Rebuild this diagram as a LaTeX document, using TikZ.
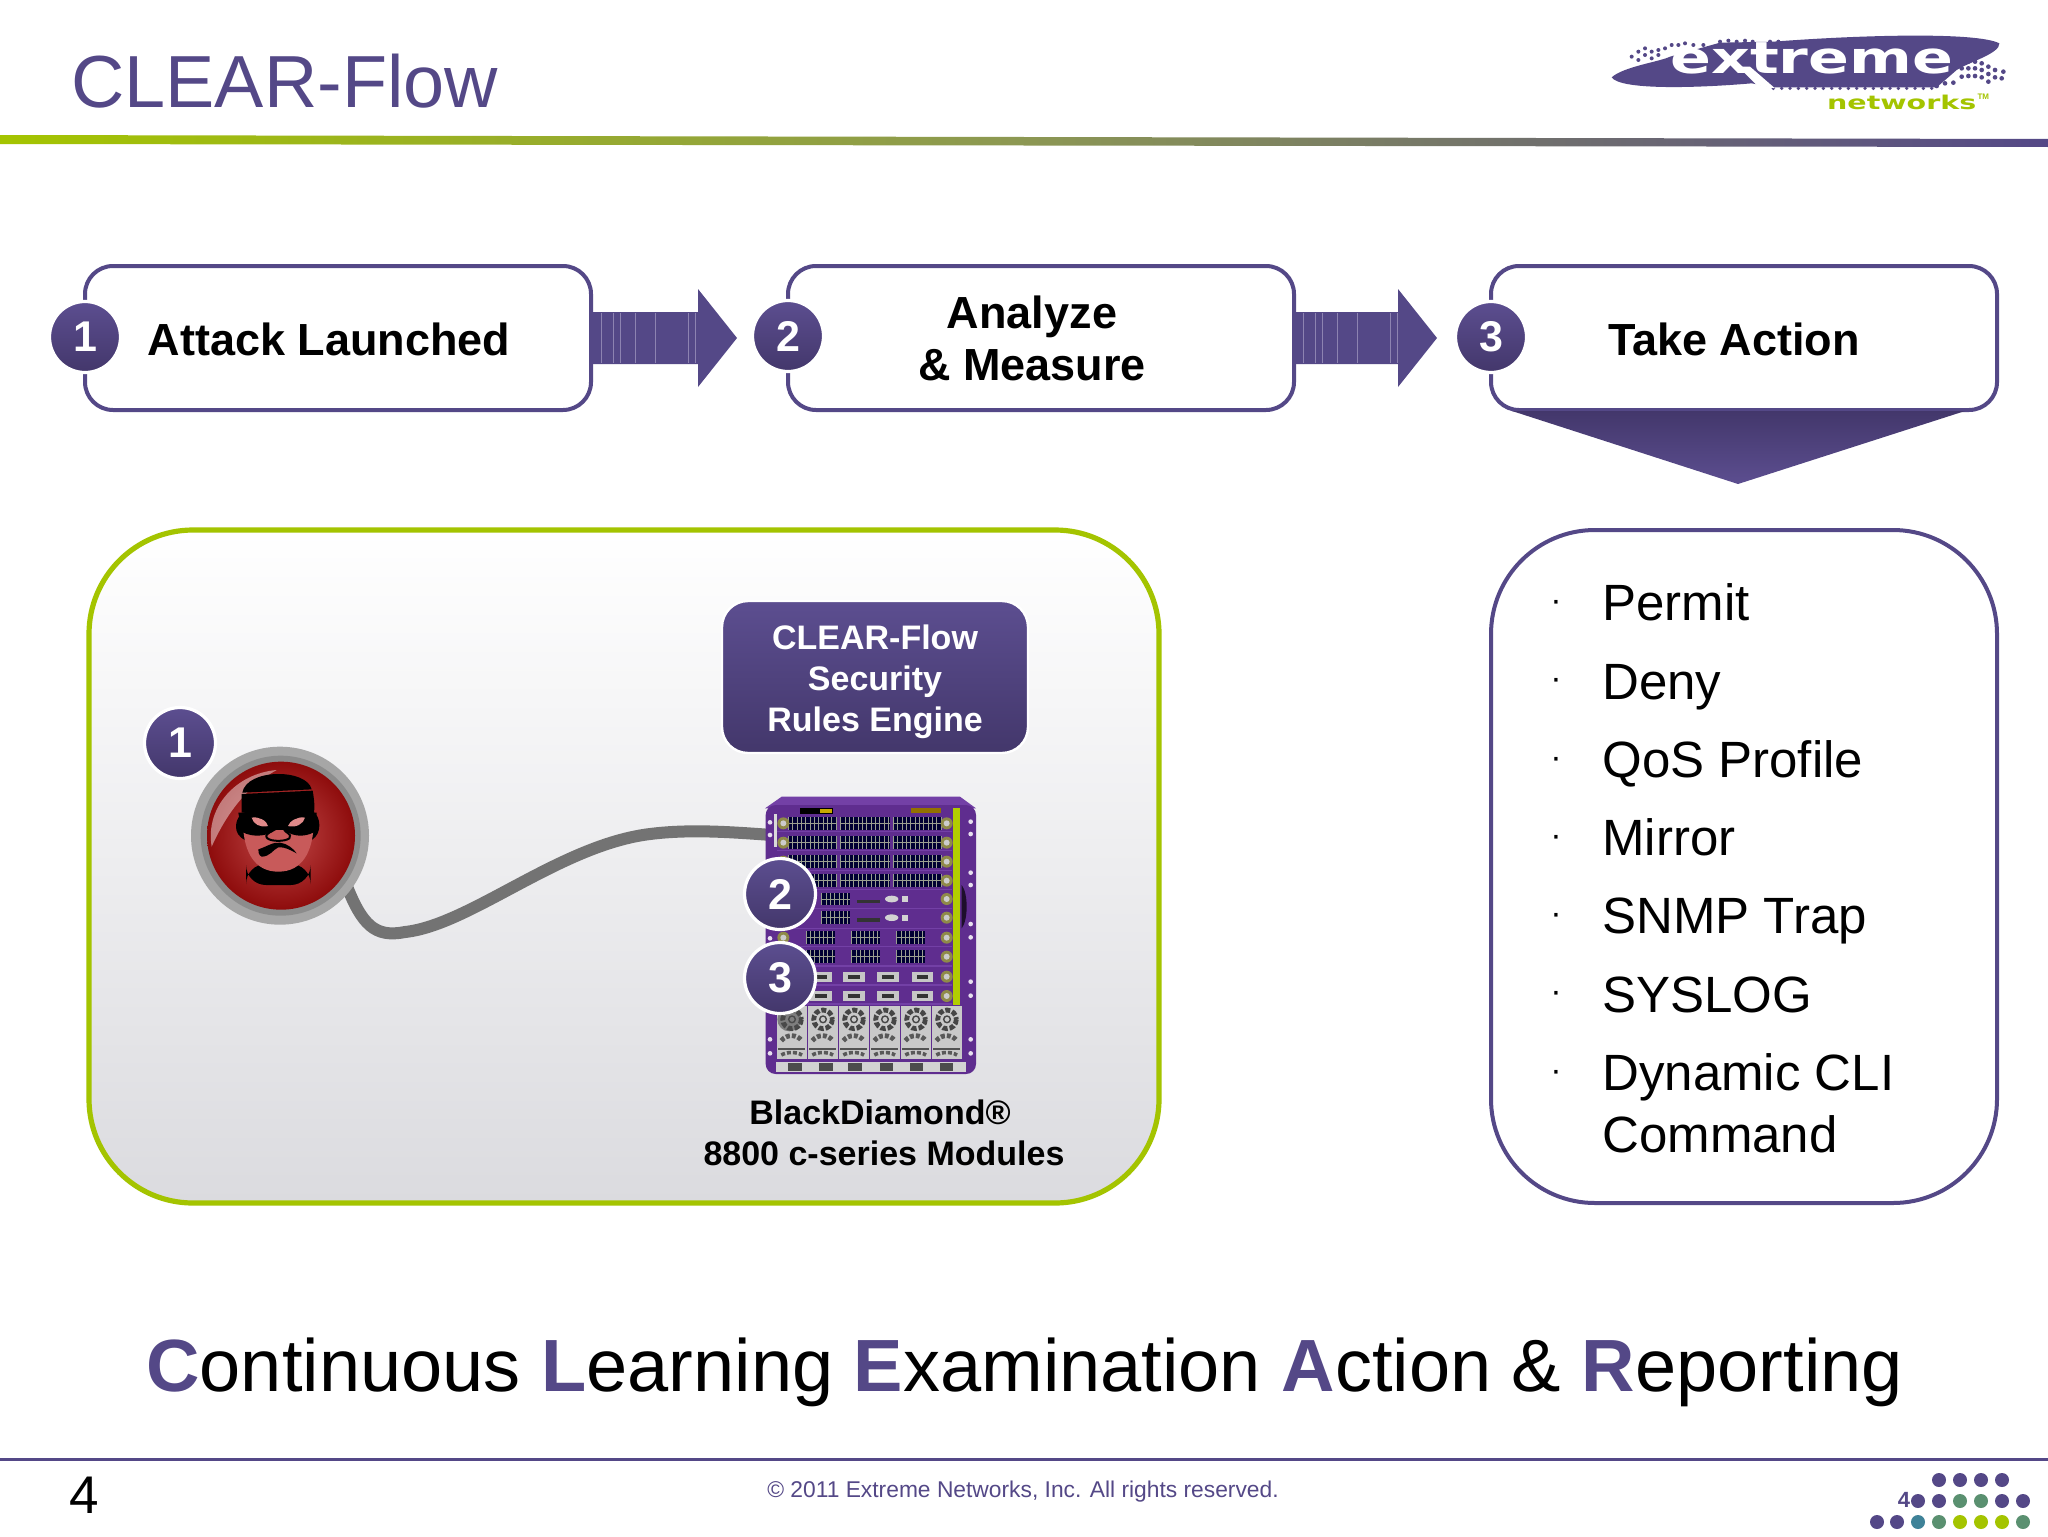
\documentclass[tikz,border=0pt]{standalone}
\usepackage{fontspec}
\setmainfont{Liberation Sans}
\newfontfamily\logofont{DejaVu Sans}
\usetikzlibrary{shadings,calc}
\definecolor{xpurple}{HTML}{544887}
\definecolor{xdark}{HTML}{43376B}
\definecolor{xlight}{HTML}{5C4E90}
\definecolor{xgreen}{HTML}{A4C400}
\definecolor{chassis}{HTML}{5F2D8F}
\definecolor{chassisL}{HTML}{7340A6}
\definecolor{panelB}{HTML}{DBDBDF}
\definecolor{faceC}{HTML}{C85A5A}
\definecolor{eyeC}{HTML}{E08A8A}
\definecolor{redIn}{HTML}{C24A4A}
\definecolor{redOut}{HTML}{8E0C0C}
\definecolor{dotG}{HTML}{5A9070}
\definecolor{dotT}{HTML}{3F8298}
\definecolor{gridC}{HTML}{9A9F90}
\newcommand{\fsz}[1]{\fontsize{#1}{#1}\selectfont}
\newcommand{\portblock}[3]{%
  \fill[black!80!blue] (#1,#3-19) rectangle (#2,#3+19);
  \foreach \i in {#1,\numexpr#1+13\relax,...,#2}{\draw[gridC,line width=.4pt] (\i,#3-19) -- (\i,#3+19);}
  \draw[gridC,line width=.5pt] (#1,#3) -- (#2,#3);
}
\tikzset{
  stepbox/.style={draw=xpurple,line width=2pt,rounded corners=14pt,fill=white},
  numdisc/.style={circle,minimum size=35.5pt,inner sep=0pt,draw=white,line width=1.6pt,top color=xlight,bottom color=xdark,text=white,font=\fsz{21.5}\bfseries},
  blockarrow/.style={fill=xpurple,draw=none},
  stephead/.style={anchor=base,font=\fsz{22.5}\bfseries,text=black,inner sep=0pt},
  listitem/.style={anchor=base west,font=\fsz{25.5},text=black,inner sep=0pt},
  bulletdot/.style={anchor=base,font=\fsz{17},text=black,inner sep=0pt},
  whitehead/.style={anchor=base,font=\fsz{17}\bfseries,text=white,inner sep=0pt},
  modulehead/.style={anchor=base,font=\fsz{17}\bfseries,text=black,inner sep=0pt},
  silver/.style={fill=gray!45!white},
}
\begin{document}
\begin{tikzpicture}[x=0.5pt,y=-0.5pt]
\useasboundingbox (0,0) rectangle (2048,1536);
\fill[white] (0,0) rectangle (2048,1536);
% header
\node[anchor=base west,inner sep=0pt,font=\fsz{36.9},text=xpurple] (title) at (71,107) {CLEAR-Flow};
\shade[left color=xgreen,right color=xpurple,middle color=gray!65!xgreen] (0,135) -- (2048,139) -- (2048,147) -- (0,144) -- cycle;
% logo
\begin{scope}[shift={(1560,0)},x=0.16667pt,y=-0.16667pt]
\fill[xpurple] (155,232) .. controls (190,200) and (300,185) .. (330,170) -- (480,128) -- (640,125)
  .. controls (900,105) and (1250,95) .. (1318,130) .. controls (1320,160) and (1230,185) .. (1190,210)
  -- (1130,262) -- (640,262) -- (575,250) .. controls (400,265) and (180,270) .. (155,232) -- cycle;
\foreach \x/\y in {215/170,235/155,235/180,255/165,255/145,275/155,275/175,295/150,295/165,315/145,335/135,355/135,375/130,400/135,430/135,
  480/125,505/122,530/125,555/122,578/125,630/125,655/125}{\fill[xpurple] (\x,\y) circle[radius=6];}
\foreach \x/\y in {1205/180,1225/185,1245/185,1265/190,1285/200,1305/210,1330/215,1205/205,1225/205,1245/205,1265/210,1285/222,1305/232,1325/235,1205/230,1225/228,1245/228,1265/232,1285/245,1180/248,1155/250,1130/258}{\fill[xpurple] (\x,\y) circle[radius=7];}
\foreach \x in {640,665,...,1120}{\fill[xpurple] (\x,265) circle[radius=5.5];}
\fill[white] (535,200) -- (570,200) -- (645,265) -- (590,255) -- cycle;
\node[anchor=base,inner sep=0pt,text=white,font=\logofont\fsz{22}\bfseries] (logoword) at (755,220) {\scalebox{1.37}[1]{extreme}};
\node[anchor=base,inner sep=0pt,text=xgreen,font=\logofont\fsz{9.5}\bfseries] (logonet) at (1025,328) {\scalebox{1.5}[1]{networks}};
\node[anchor=base,inner sep=0pt,text=xgreen,font=\fsz{4}\bfseries] (logotm) at (1270,298) {TM};
\end{scope}
% step boxes
\draw[stepbox] (85,266) rectangle (591,410);
\draw[stepbox] (788,266) rectangle (1294,410);
\draw[stepbox] (1491,266) rectangle (1997,410);
% arrows
\fill[blockarrow] (593,312) -- (698,312) -- (698,289) -- (737,338) -- (698,387) -- (698,364) -- (593,364) -- cycle;
\fill[blockarrow] (1295,312) -- (1398,312) -- (1398,289) -- (1437,338) -- (1398,387) -- (1398,364) -- (1295,364) -- cycle;
\foreach \o in {8,20,27,42,62,95,102}{
  \draw[xlight!70!white,line width=.35pt] (593+\o,313) -- (593+\o,363);
  \draw[xlight!70!white,line width=.35pt] (1295+\o,313) -- (1295+\o,363);
}
\shade[top color=xdark,bottom color=xlight] (1512,411) -- (1965,411) -- (1738,484) -- cycle;
\node[numdisc] (s1) at (85,337) {1};
\node[numdisc] (s2) at (788,336) {2};
\node[numdisc] (s3) at (1491,337) {3};
\node[stephead] (t1) at (329,355) {Attack Launched};
\node[stephead] (t2a) at (1032,328) {Analyze};
\node[stephead] (t2b) at (1032,380) {\& Measure};
\node[stephead] (t3) at (1734,355) {Take Action};
% big panels
\draw[draw=xgreen,line width=2.6pt,rounded corners=52pt,top color=white,bottom color=panelB] (89,530) rectangle (1159,1203);
\draw[draw=xpurple,line width=2pt,rounded corners=52pt,fill=white] (1491,530) rectangle (1997,1203);
% rules box
\node[draw=white,line width=1.2pt,rounded corners=13pt,top color=xlight,bottom color=xdark,minimum width=153pt,minimum height=76pt,inner sep=0pt] (rules) at (875,677) {};
\node[whitehead] (r1) at (875,649) {CLEAR-Flow};
\node[whitehead] (r2) at (875,690) {Security};
\node[whitehead] (r3) at (875,731) {Rules Engine};
% cable
\coordinate (cableEnd) at (772,835);
\coordinate (cableStart) at (346,884);
\draw[line width=6pt,color=gray!90!black,line cap=round] (cableStart) .. controls (362,925) and (375,938) .. (405,932) .. controls (470,925) and (560,845) .. (650,834) .. controls (690,829) and (730,832) .. (cableEnd);
% thief
\begin{scope}[shift={(130,690)},x=0.16667pt,y=-0.16667pt]
\fill[gray!70!white] (450,437) circle[radius=267];
\fill[gray!90!white] (452,437) circle[radius=240];
\shade[inner color=redIn,outer color=redOut] (453,437) circle[radius=222];
\fill[white,opacity=.45] (245,470) .. controls (225,350) and (320,250) .. (440,240) .. controls (350,290) and (290,370) .. (245,470) -- cycle;
\fill[black,rounded corners=10pt] (348,522) rectangle (542,585);
\fill[black] (318,410) .. controls (318,380) and (340,365) .. (350,365) -- (550,365) .. controls (572,380) and (578,430) .. (545,450) -- (345,450) .. controls (325,440) and (318,425) .. (318,410) -- cycle;
\fill[faceC] (340,420) -- (550,420) .. controls (545,480) and (520,545) .. (445,545) .. controls (370,545) and (345,480) .. (340,420) -- cycle;
\fill[black] (335,312) -- (548,302) .. controls (552,325) and (555,350) .. (552,368) -- (335,368) -- cycle;
\fill[black] (337,308) .. controls (350,235) and (530,235) .. (545,298) -- cycle;
\fill[black] (325,368) -- (560,368) -- (555,425) .. controls (520,445) and (480,440) .. (450,410) .. controls (420,440) and (370,445) .. (335,425) -- cycle;
\fill[eyeC] (365,383) .. controls (385,378) and (412,393) .. (414,408) .. controls (390,414) and (370,402) .. (365,383) -- cycle;
\fill[eyeC] (525,383) .. controls (505,378) and (478,393) .. (474,408) .. controls (498,414) and (520,402) .. (525,383) -- cycle;
\draw[black,line width=1pt,line cap=round] (430,415) .. controls (425,430) and (400,430) .. (412,445) .. controls (425,455) and (465,455) .. (478,445) .. controls (488,430) and (465,430) .. (460,415);
\fill[black] (385,478) .. controls (410,470) and (430,455) .. (450,458) .. controls (470,460) and (490,475) .. (500,490) .. controls (480,480) and (465,470) .. (445,472) .. controls (430,478) and (420,500) .. (395,500) .. controls (385,495) and (385,485) .. (385,478) -- cycle;
\end{scope}
\node[numdisc] (a1) at (180,743) {1};
% server
\begin{scope}[shift={(720,780)},x=0.16667pt,y=-0.16667pt]
\fill[chassisL] (135,85) -- (185,50) -- (720,50) -- (768,85) -- cycle;
\fill[chassis,rounded corners=5pt] (137,75) rectangle (768,882);
\fill[black] (241,85) rectangle (340,103);
\fill[xgreen!60!orange] (300,88) rectangle (335,100);
\fill[xgreen!50!orange!70!black] (572,85) rectangle (662,100);
\foreach \y in {155,212,272,328,385,445,500,558,615,672}{\draw[chassisL,line width=.7pt] (170,\y) -- (695,\y);}
\foreach \y in {130,188,245,302}{
  \portblock{205}{350}{\y}
  \portblock{362}{510}{\y}
  \portblock{520}{665}{\y}
}
\foreach \y in {357,413}{
  \portblock{305}{390}{\y}
  \fill[black!80] (410,\y+2) rectangle (480,\y+12);
  \fill[gray!35!white] (515,\y) ellipse[x radius=20,y radius=10];
  \fill[gray!35!white] (545,\y-8) rectangle (565,\y+10);
}
\foreach \y in {473,530}{
  \portblock{258}{345}{\y}
  \portblock{395}{480}{\y}
  \portblock{530}{615}{\y}
}
\foreach \y in {590,648}{
  \foreach \x in {270,370,472,575}{
    \fill[silver] (\x,\y-15) rectangle (\x+65,\y+15);
    \fill[black!60!gray] (\x+15,\y-6) rectangle (\x+50,\y+6);
  }
}
\foreach \y in {130,188,245,302,357,413,473,530,590,648}{\fill[gray!50!olive] (680,\y) circle[radius=18]; \fill[gray!40!white] (680,\y) circle[radius=9];}
\foreach \y in {130,188,245,302,473}{\fill[gray!50!olive] (190,\y) circle[radius=18]; \fill[gray!40!white] (190,\y) circle[radius=9];}
\fill[xgreen!85!yellow] (700,85) rectangle (720,675);
\fill[black!70!chassis] (725,315) .. controls (745,340) and (745,420) .. (725,445) -- cycle;
\fill[white!70!gray] (163,103) rectangle (171,200);
\foreach \x/\y in {150/127,150/165,150/475,150/778,150/820,752/125,752/162,752/278,752/315,752/432,752/472,752/605,752/647,752/778,752/820}{\fill[white!85!chassis] (\x,\y) circle[radius=7];}
\foreach \i in {0,1,2,3,4,5}{
  \pgfmathsetmacro{\xa}{170+\i*93}
  \pgfmathsetmacro{\xc}{\xa+46}
  \fill[gray!42!white] (\xa,678) rectangle (\xa+90,838);
  \draw[gray!55!black,dash pattern=on 2.5pt off 1pt,line width=2.4pt] (\xc,718) circle[radius=28];
  \draw[gray!55!black,line width=.7pt] (\xc,718) circle[radius=10];
  \draw[black!65,dash pattern=on 2pt off 1pt,line width=2.4pt] (\xa+14,782) .. controls (\xa+30,762) and (\xa+60,762) .. (\xa+76,782);
  \fill[gray!65!black] (\xa+5,805) rectangle (\xa+85,811);
  \draw[black!65,dash pattern=on 2pt off 1pt,line width=1.8pt] (\xa+14,825) .. controls (\xa+30,815) and (\xa+60,815) .. (\xa+76,825);
}
\fill[black!70,opacity=.6] (208,718) circle[radius=36];
\fill[gray!35!white] (167,845) rectangle (737,875);
\foreach \x in {225,318,405,500,590,680}{\fill[black!70] (\x-20,848) rectangle (\x+20,872);}
\end{scope}
\fill[black!35,opacity=.6] (780,894) circle[radius=36.5] (780,978) circle[radius=36.5];
\node[numdisc] (a2) at (780,894) {2};
\node[numdisc] (a3) at (780,978) {3};
\node[modulehead] (bd1) at (880,1124) {BlackDiamond®};
\node[modulehead] (bd2) at (884,1165) {8800 c-series Modules};
% list
\foreach \n/\y/\t in {1/620/Permit,2/699/Deny,3/777/QoS Profile,4/855/Mirror,5/933/SNMP Trap,6/1012/SYSLOG,7/1090/Dynamic CLI,8/1152/Command}{
  \node[listitem] (li\n) at (1602,\y) {\t};
}
\foreach \n/\y in {1/611,2/689,3/768,4/846,5/924,6/1002,7/1081}{
  \node[bulletdot] (bu\n) at (1556,\y) {·};
}
% tagline
\node[anchor=base west,inner sep=0pt,font=\fsz{37},text=black] (tag) at (146,1391) {{\bfseries\color{xpurple}C}ontinuous {\bfseries\color{xpurple}L}earning {\bfseries\color{xpurple}E}xamination {\bfseries\color{xpurple}A}ction \& {\bfseries\color{xpurple}R}eporting};
% footer
\fill[xpurple] (0,1458) rectangle (2048,1461);
\node[anchor=base,inner sep=0pt,font=\fsz{26.5},text=black] (pnum) at (84,1513) {4};
\node[anchor=base,inner sep=0pt,font=\fsz{11.4},text=xpurple] (copy) at (1023,1497) {© 2011 Extreme Networks, Inc. All rights reserved.};
\foreach \x/\y/\c in {1939/1480/xpurple,1960/1480/xpurple,1981/1480/xpurple,2002/1480/xpurple,
  1918/1501/xpurple,1939/1501/xpurple,1960/1501/dotG,1981/1501/dotG,2002/1501/xpurple,2023/1501/xpurple,
  1877/1522/xpurple,1897/1522/xpurple,1918/1522/dotT,1939/1522/dotG,1960/1522/xgreen,1981/1522/xgreen,2002/1522/xgreen,2023/1522/dotG}{
  \fill[\c] (\x,\y) circle[radius=7];
}
\node[anchor=center,inner sep=0pt,font=\fsz{11}\bfseries,text=xpurple] (pnum2) at (1904,1500) {4};
\end{tikzpicture}
\end{document}
